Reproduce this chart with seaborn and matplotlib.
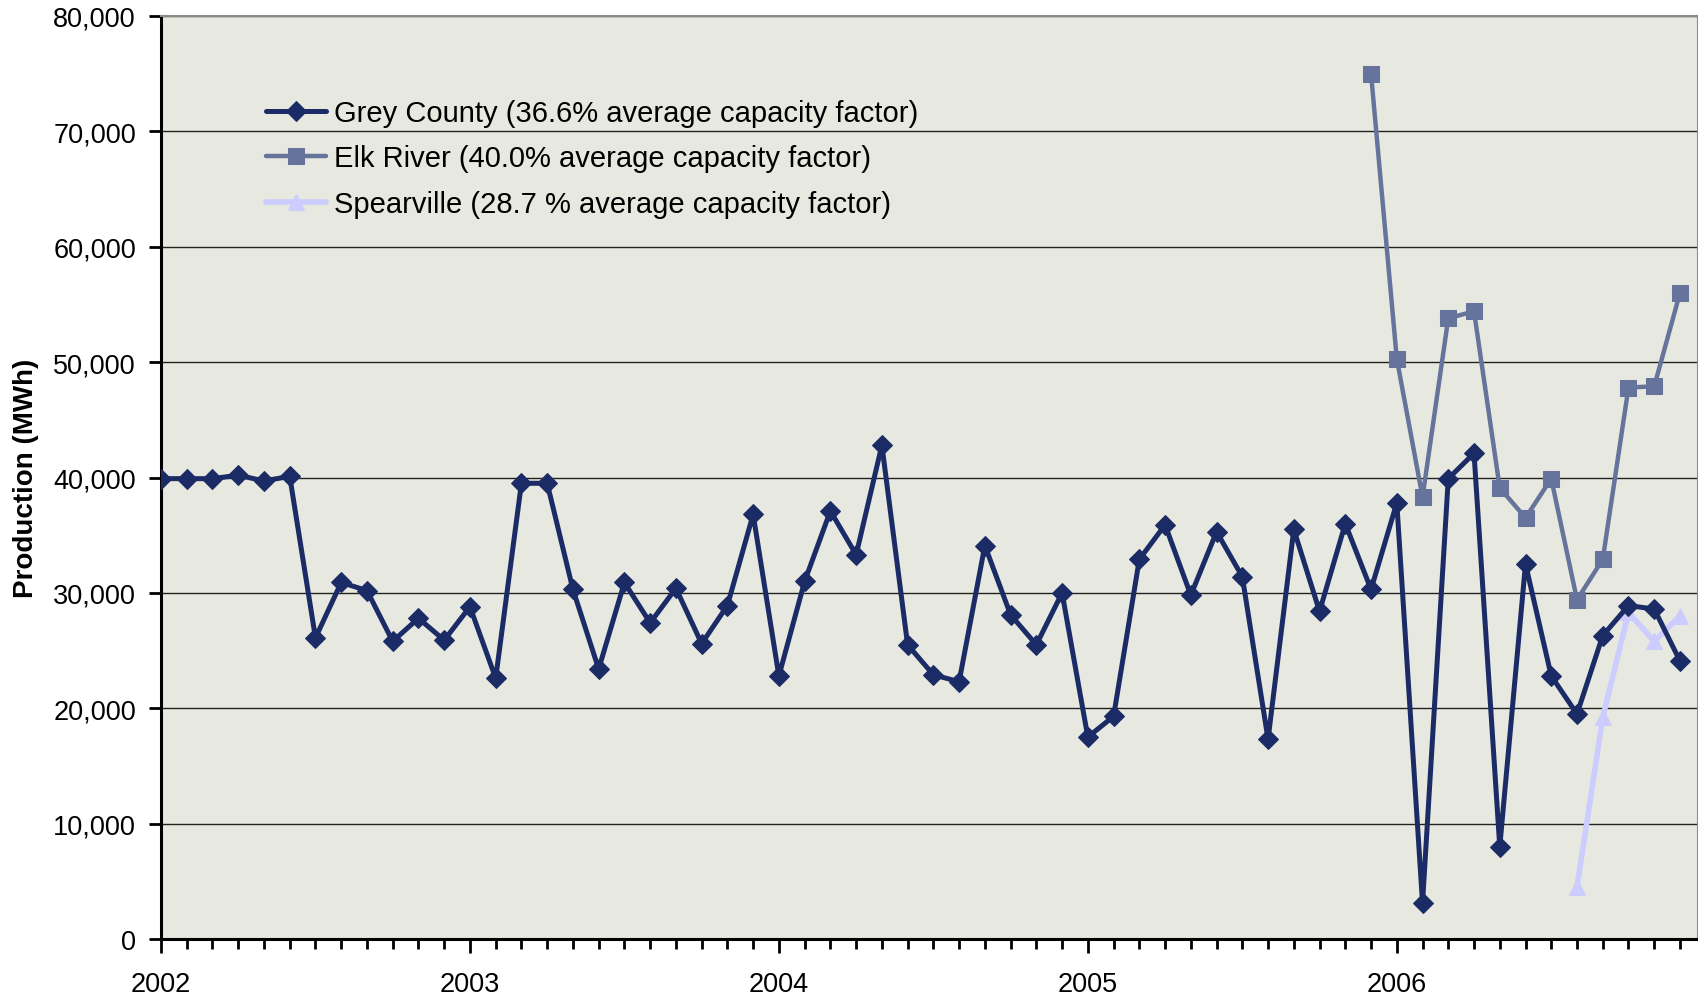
import numpy as np
import pandas as pd
import matplotlib
matplotlib.use("Agg")
import matplotlib.pyplot as plt
import seaborn as sns
from matplotlib.ticker import FuncFormatter, FixedLocator, MultipleLocator

# ---- data (monthly production, MWh) ----
grey_start = "2002-01"
grey_county = [39900, 39900, 39900, 40200, 39700, 40100, 26100, 30900, 30200, 25800, 27800, 25900,
               28800, 22600, 39500, 39500, 30300, 23400, 30900, 27400, 30400, 25600, 28900, 36800,
               22800, 31000, 37100, 33300, 42800, 25500, 22900, 22300, 34100, 28100, 25500, 30000,
               17500, 19300, 32900, 35900, 29800, 35300, 31400, 17300, 35500, 28400, 36000, 30300,
               37800, 3100, 39900, 42100, 8000, 32500, 22800, 19500, 26300, 28900, 28600, 24100]
elk_start = "2005-12"
elk_river = [75000, 50300, 38300, 53800, 54400, 39100, 36500, 39900, 29400, 32900, 47800, 47900, 56000]
spear_start = "2006-08"
spearville = [4500, 19200, 28300, 25800, 28000]

labels = ["Grey County (36.6% average capacity factor)",
          "Elk River (40.0% average capacity factor)",
          "Spearville (28.7 % average capacity factor)"]
year_labels = ["2002", "2003", "2004", "2005", "2006"]

base = pd.Period("2002-01", freq="M")

def series(start, vals, name):
    p0 = pd.Period(start, freq="M")
    idx = [(p0 + i - base).n for i in range(len(vals))]
    return pd.DataFrame({"month": idx, "value": vals, "series": name})

df = pd.concat([series(grey_start, grey_county, labels[0]),
                series(elk_start, elk_river, labels[1]),
                series(spear_start, spearville, labels[2])], ignore_index=True)

colors = {labels[0]: "#1B2B66", labels[1]: "#66739A", labels[2]: "#CCCCFF"}
markers = {labels[0]: "D", labels[1]: "s", labels[2]: "^"}
lws = {labels[0]: 3.6, labels[1]: 3.2, labels[2]: 4.0}
mss = {labels[0]: 10, labels[1]: 11, labels[2]: 11}

sns.set_style("white")
plt.rcParams["font.family"] = ["Liberation Sans", "DejaVu Sans"]
plt.rcParams["text.color"] = "black"
plt.rcParams["axes.labelcolor"] = "black"
plt.rcParams["xtick.color"] = "black"
plt.rcParams["ytick.color"] = "black"

fig = plt.figure(figsize=(16.99, 9.95), dpi=100)
ax = fig.add_axes([161/1699, 1 - 940/995, 1537/1699, 923/995])
ax.set_facecolor("#E7E8DF")

for name in labels:
    sub = df[df["series"] == name]
    sns.lineplot(data=sub, x="month", y="value", ax=ax, color=colors[name],
                 marker=markers[name], markersize=mss[name], linewidth=lws[name],
                 markeredgecolor=colors[name], label=name, zorder=3 if name == labels[0] else 2)

ax.set_xlim(0, 59.7)
ax.set_ylim(0, 80000)
ax.yaxis.set_major_locator(MultipleLocator(10000))
ax.yaxis.set_major_formatter(FuncFormatter(lambda v, p: f"{int(v):,}"))
ax.grid(axis="y", color="#222222", linewidth=1.0)
ax.set_axisbelow(True)

year_pos = [12 * i for i in range(len(year_labels))]
ax.xaxis.set_major_locator(FixedLocator(year_pos))
ax.set_xticklabels(year_labels)
ax.xaxis.set_minor_locator(FixedLocator([m for m in range(60) if m % 12]))
ax.tick_params(axis="x", which="both", bottom=True, direction="out")
ax.tick_params(axis="y", which="major", left=True, direction="out")
ax.tick_params(axis="x", which="major", length=10, width=2, labelsize=19.5, pad=13,
               color="black", labelcolor="black")
ax.tick_params(axis="x", which="minor", length=7, width=2, color="black")
ax.tick_params(axis="y", which="major", length=9, width=2, labelsize=19.5, pad=9,
               color="black", labelcolor="black")

for s in ["left", "bottom"]:
    ax.spines[s].set_color("black")
    ax.spines[s].set_linewidth(2.2)
for s in ["top", "right"]:
    ax.spines[s].set_color("#8C8C8C")
    ax.spines[s].set_linewidth(1.5)
    ax.spines[s].set_visible(True)

ax.set_xlabel("")
ax.set_ylabel("Production (MWh)", fontsize=20, fontweight="bold", labelpad=10, color="black")

leg = ax.legend(loc="upper left", bbox_to_anchor=(0.061, 0.923), frameon=False,
                fontsize=21, handlelength=2.05, handletextpad=0.25, labelspacing=0.6,
                borderaxespad=0, labelcolor="black")

fig.savefig("out.png", dpi=100)
